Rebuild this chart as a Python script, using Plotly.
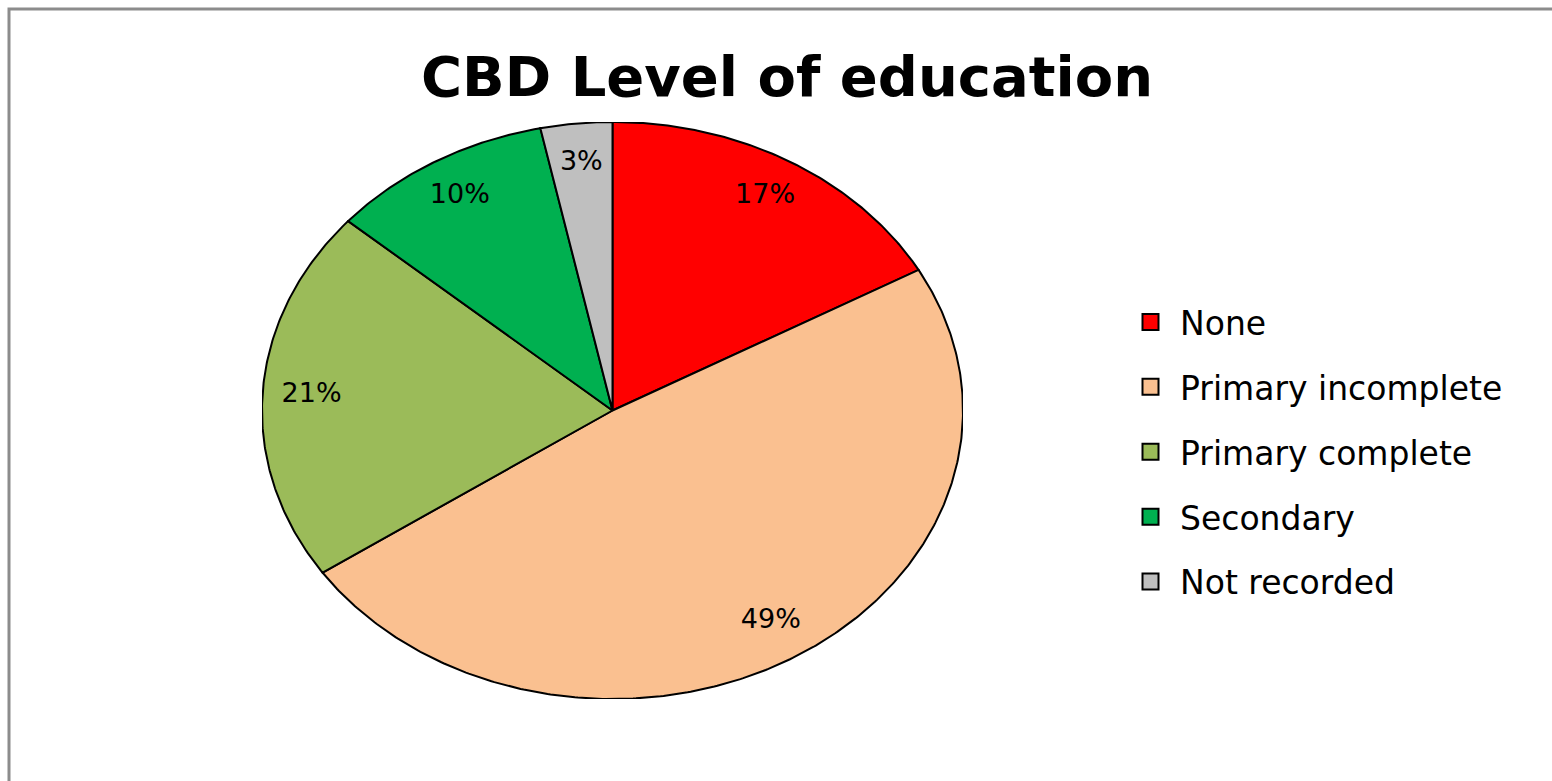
import math
import plotly.graph_objects as go

categories = ["None", "Primary incomplete", "Primary complete", "Secondary", "Not recorded"]
values = [16.9, 48.6, 20.9, 10.3, 3.3]
colors = ["#FF0000", "#FAC090", "#9BBB59", "#00B050", "#BFBFBF"]

title_text = "CBD Level of education"
FONT = "DejaVu Sans"

W, H = 1552, 781
# ellipse bounding box in pixels
ex0, ex1 = 262, 963
ey0, ey1 = 122, 699

total = sum(values)
fig = go.Figure()

start = 0.0
label_x, label_y, label_t = [], [], []
for cat, v, c in zip(categories, values, colors):
    span = v / total * 360.0
    end = start + span
    n = max(int(span * 2), 2)
    xs, ys = [0.0], [0.0]
    for i in range(n + 1):
        t = math.radians(start + span * i / n)
        xs.append(math.sin(t))
        ys.append(math.cos(t))
    xs.append(0.0)
    ys.append(0.0)
    fig.add_trace(go.Scatter(
        x=xs, y=ys, mode="lines", fill="toself", fillcolor=c,
        line=dict(color="black", width=2), showlegend=False, hoverinfo="skip"))
    mid = math.radians(start + span / 2)
    label_x.append(0.86 * math.sin(mid))
    label_y.append(0.86 * math.cos(mid))
    label_t.append(f"{round(v / total * 100):.0f}%")
    start = end

fig.add_trace(go.Scatter(
    x=label_x, y=label_y, mode="text", text=label_t,
    textfont=dict(family=FONT, size=27, color="black"),
    showlegend=False, hoverinfo="skip"))

for i, (cat, c) in enumerate(zip(categories, colors)):
    fig.add_trace(go.Scatter(
        x=[None], y=[None], mode="markers", name=cat, legendgroup=f"g{i}",
        marker=dict(symbol="square", size=17, color=c, line=dict(color="black", width=2))))

fig.update_layout(
    width=W, height=H,
    margin=dict(l=0, r=0, t=0, b=0),
    paper_bgcolor="white", plot_bgcolor="white",
    title=dict(text=f"<b>{title_text}</b>", x=787 / W, y=(H - 76) / H,
               xanchor="center", yanchor="middle",
               font=dict(family=FONT, size=56, color="black")),
    xaxis=dict(visible=False, range=[-1.0, 1.0], domain=[ex0 / W, ex1 / W], fixedrange=True),
    yaxis=dict(visible=False, range=[-1.0, 1.0], domain=[(H - ey1) / H, (H - ey0) / H], fixedrange=True),
    legend=dict(x=1121 / W, y=(H - 452) / H, xanchor="left", yanchor="middle",
                font=dict(family=FONT, size=33, color="black"),
                itemwidth=49,
                traceorder="grouped", tracegroupgap=19, bgcolor="rgba(0,0,0,0)"),
    shapes=[dict(type="rect", xref="paper", yref="paper",
                 x0=9 / W, x1=1.02, y0=-0.05, y1=(H - 9) / H,
                 line=dict(color="#8C8C8C", width=3), fillcolor="rgba(0,0,0,0)")],
    showlegend=True,
)

fig.write_html("out.html", config={"displayModeBar": False},
               post_script="document.body.style.margin='0';document.body.style.overflow='hidden';")
